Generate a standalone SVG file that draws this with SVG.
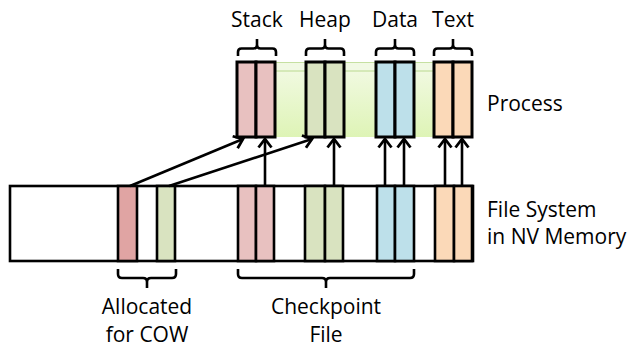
<svg xmlns="http://www.w3.org/2000/svg" width="632" height="349" viewBox="0 0 632 349">
  <defs>
    <linearGradient id="bandFill" x1="0" y1="0" x2="0" y2="1">
      <stop offset="0" stop-color="#f3fae6"/>
      <stop offset="1" stop-color="#def4b6"/>
    </linearGradient>
    <marker id="chevron" markerUnits="userSpaceOnUse" viewBox="-10 -8 12 16" markerWidth="12" markerHeight="16" refX="0" refY="0" orient="auto">
      <path d="M-8.5,-6.5 L0,0 L-8.5,6.5" fill="none" stroke="#000" stroke-width="2.8" stroke-linejoin="miter"/>
    </marker>
  </defs>
  <style>
    .lbl { font-family: "Open Sans", "Liberation Sans", sans-serif; font-size: 21px; fill: #000; }
    .mid { text-anchor: middle; }
    .seg { stroke: #000; stroke-width: 2.6; }
    .pseg { stroke: #000; stroke-width: 3; }
    .brace { fill: none; stroke: #000; stroke-width: 2.6; stroke-linejoin: round; }
    .arrow { fill: none; stroke: #000; stroke-width: 2.6; marker-end: url(#chevron); }
    .stack { fill: #e8c1c0; }
    .cow-stack { fill: #e0a4a3; }
    .heap { fill: #d9e3c0; }
    .data { fill: #bde0ea; }
    .text { fill: #fbd9b8; }
  </style>

  <rect width="632" height="349" fill="#fff"/>

  <!-- Process address space -->
  <g id="process">
    <rect x="275" y="62" width="159" height="75" fill="url(#bandFill)"/>
    <rect x="275" y="62" width="159" height="9" fill="#f1f9e4"/>
    <line x1="275" y1="71" x2="434" y2="71" stroke="#b9d98e" stroke-width="1.2"/>
    <line x1="275" y1="62.5" x2="434" y2="62.5" stroke="#c6e0a2" stroke-width="1"/>
    <g id="proc-stack">
      <rect x="237" y="62" width="19" height="75" class="stack pseg"/>
      <rect x="256" y="62" width="19" height="75" class="stack pseg"/>
    </g>
    <g id="proc-heap">
      <rect x="306" y="62" width="19" height="75" class="heap pseg"/>
      <rect x="325" y="62" width="19" height="75" class="heap pseg"/>
    </g>
    <g id="proc-data">
      <rect x="376" y="62" width="19" height="75" class="data pseg"/>
      <rect x="395" y="62" width="19" height="75" class="data pseg"/>
    </g>
    <g id="proc-text">
      <rect x="434" y="62" width="19" height="75" class="text pseg"/>
      <rect x="453" y="62" width="19" height="75" class="text pseg"/>
    </g>
    <text x="487" y="111" class="lbl">Process</text>
  </g>

  <!-- Section labels with braces -->
  <g id="label-stack">
    <path class="brace" d="M238,56 V52 Q238,48.5 241.5,48.5 H253.5 Q257,48.5 257,45 V39 M257,45 Q257,48.5 260.5,48.5 H272.5 Q276,48.5 276,52 V56"/>
    <text x="257" y="27" class="lbl mid">Stack</text>
  </g>
  <g id="label-heap">
    <path class="brace" d="M306,56 V52 Q306,48.5 309.5,48.5 H321.5 Q325,48.5 325,45 V39 M325,45 Q325,48.5 328.5,48.5 H340.5 Q344,48.5 344,52 V56"/>
    <text x="325" y="27" class="lbl mid">Heap</text>
  </g>
  <g id="label-data">
    <path class="brace" d="M376,56 V52 Q376,48.5 379.5,48.5 H391.5 Q395,48.5 395,45 V39 M395,45 Q395,48.5 398.5,48.5 H410.5 Q414,48.5 414,52 V56"/>
    <text x="395" y="27" class="lbl mid">Data</text>
  </g>
  <g id="label-text">
    <path class="brace" d="M434,56 V52 Q434,48.5 437.5,48.5 H449.5 Q453,48.5 453,45 V39 M453,45 Q453,48.5 456.5,48.5 H468.5 Q472,48.5 472,52 V56"/>
    <text x="453" y="27" class="lbl mid">Text</text>
  </g>

  <!-- File system in NV memory -->
  <g id="filesystem">
    <rect x="10" y="186" width="463" height="75" fill="#fff" class="seg"/>
    <g id="cow-blocks">
      <rect x="118" y="186" width="19" height="75" class="cow-stack seg"/>
      <rect x="157" y="186" width="18" height="75" class="heap seg"/>
    </g>
    <g id="ckpt-stack">
      <rect x="238" y="186" width="18" height="75" class="stack seg"/>
      <rect x="256" y="186" width="18" height="75" class="stack seg"/>
    </g>
    <g id="ckpt-heap">
      <rect x="305" y="186" width="20" height="75" class="heap seg"/>
      <rect x="325" y="186" width="18" height="75" class="heap seg"/>
    </g>
    <g id="ckpt-data">
      <rect x="377" y="186" width="18" height="75" class="data seg"/>
      <rect x="395" y="186" width="19" height="75" class="data seg"/>
    </g>
    <g id="ckpt-text">
      <rect x="435" y="186" width="19" height="75" class="text seg"/>
      <rect x="454" y="186" width="18" height="75" class="text seg"/>
    </g>
    <text x="487" y="217" class="lbl">File System</text>
    <text x="487" y="244" class="lbl">in NV Memory</text>
  </g>

  <!-- Bottom braces and labels -->
  <g id="label-cow">
    <path class="brace" d="M118,269 V274 Q118,278 122,278 H143 Q147,278 147,282 V288 M147,282 Q147,278 151,278 H172 Q176,278 176,274 V269"/>
    <text x="147" y="314" class="lbl mid">Allocated</text>
    <text x="147" y="342" class="lbl mid">for COW</text>
  </g>
  <g id="label-checkpoint">
    <path class="brace" d="M238,269 V274 Q238,278 242,278 H322 Q326,278 326,282 V288 M326,282 Q326,278 330,278 H410 Q414,278 414,274 V269"/>
    <text x="326" y="314" class="lbl mid">Checkpoint</text>
    <text x="326" y="342" class="lbl mid">File</text>
  </g>

  <!-- Mappings from file blocks to process segments -->
  <g id="connectors">
    <line class="arrow" x1="130" y1="186" x2="243" y2="139"/>
    <line class="arrow" x1="169" y1="186" x2="312" y2="139"/>
    <line class="arrow" x1="265" y1="186" x2="265" y2="139"/>
    <line class="arrow" x1="334" y1="186" x2="334" y2="139"/>
    <line class="arrow" x1="385" y1="186" x2="385" y2="139"/>
    <line class="arrow" x1="404" y1="186" x2="404" y2="139"/>
    <line class="arrow" x1="445" y1="186" x2="445" y2="139"/>
    <line class="arrow" x1="462" y1="186" x2="462" y2="139"/>
  </g>
</svg>
